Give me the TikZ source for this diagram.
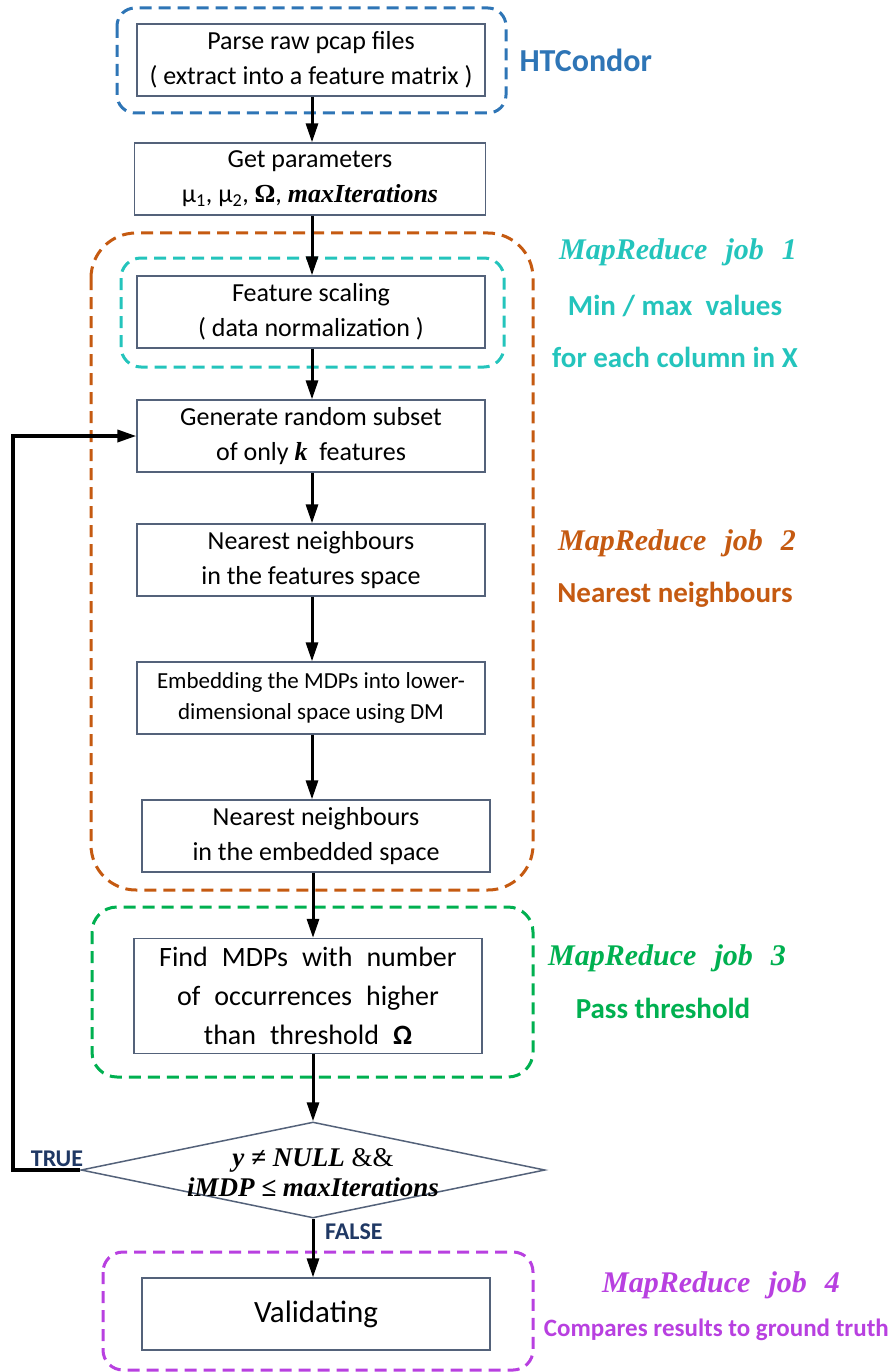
\documentclass[tikz,border=0pt]{standalone}
\usepackage{fontspec}
\setmainfont{Carlito}
\newfontfamily\serifbi{Liberation Serif}
\usetikzlibrary{arrows.meta,shapes.geometric}

\definecolor{condorblue}{RGB}{46,117,182}
\definecolor{jobteal}{RGB}{36,196,188}
\definecolor{joborange}{RGB}{197,90,17}
\definecolor{jobgreen}{RGB}{0,176,80}
\definecolor{jobpurple}{RGB}{184,64,224}
\definecolor{labelnavy}{RGB}{31,56,100}
\definecolor{boxedge}{RGB}{84,98,122}

\newcommand{\mbi}[1]{{\serifbi\bfseries\itshape #1}}
\newcommand{\widewords}{\spaceskip=0.5em plus 0.1em\relax}

\begin{document}
\begin{tikzpicture}[x=1pt,y=-1pt,
  procbox/.style={draw=boxedge, line width=1.3pt, fill=white, align=center,
    inner sep=0pt, minimum width=348pt, minimum height=72pt,
    font=\fontsize{26}{35}\selectfont},
  group/.style={line width=3pt, dash pattern=on 12pt off 7pt, rounded corners=#1},
  flow/.style={-{Triangle[length=19pt,width=12pt]}, line width=3pt, black},
  joblabel/.style={font=\serifbi\bfseries\itshape\fontsize{30}{30}\selectfont},
  note/.style={font=\bfseries\fontsize{29}{29}\selectfont},
  branch/.style={font=\bfseries\fontsize{24}{24}\selectfont, text=labelnavy, inner sep=0pt}
]
\useasboundingbox (0,0) rectangle (889,1372);

% dashed job groups
\draw[group=18pt, condorblue] (117,8) rectangle (506,113);
\draw[group=45pt, joborange] (91,233) rectangle (533,890);
\draw[group=20pt, jobteal] (121,258) rectangle (504,367);
\draw[group=25pt, jobgreen] (92,907) rectangle (533,1077);
\draw[group=20pt, jobpurple] (103,1252) rectangle (533,1370);

% main axis of the flow
\coordinate (axis) at (312,0);

% process steps
\node[procbox] (b1) at (311,60) {Parse raw pcap files\\( extract into a feature matrix )};
\node[procbox, minimum width=351pt] (b2) at (310,179) {Get parameters\\
  μ\textsubscript{1},\ μ\textsubscript{2},\ \mbi{\upshape Ω},\ \mbi{maxIterations}};
\node[procbox] (b3) at (311,312) {Feature scaling\\( data normalization )};
\node[procbox] (b4) at (311,436) {Generate random subset\\of only \mbi{k}\ \ features};
\node[procbox] (b5) at (311,560) {Nearest neighbours\\in the features space};
\node[procbox, font=\fontsize{23}{31}\selectfont] (b6) at (311,698) {Embedding the MDPs into lower-\\dimensional space using DM};
\node[procbox] (b7) at (316,836) {Nearest neighbours\\in the embedded space};
\node[procbox, minimum height=115pt, font=\fontsize{28}{39}\selectfont] (b8) at (308,996)
  {\widewords Find MDPs with number\\\widewords of occurrences higher\\\widewords than threshold {\bfseries Ω}};
\node[diamond, draw=boxedge, line width=1.5pt, inner sep=0pt, aspect=4.83,
  minimum width=464pt, minimum height=96pt] (dec) at (313,1170) {};
\node[font=\serifbi\bfseries\itshape\fontsize{27}{30}\selectfont, align=center] (dectext) at (313,1173)
  {y ≠ NULL {\upshape\mdseries \&\&}\\iMDP ≤ maxIterations};
\node[procbox, font=\fontsize{31}{31}\selectfont] (b9) at (316,1314) {Validating};

% connectors
\draw[flow] (axis |- b1.south) -- (axis |- b2.north);
\draw[flow] (axis |- b2.south) -- (axis |- b3.north);
\draw[flow] (axis |- b3.south) -- (axis |- b4.north);
\draw[flow] (axis |- b4.south) -- (axis |- b5.north);
\draw[flow] (axis |- b5.south) -- (axis |- b6.north);
\draw[flow] (axis |- b6.south) -- (axis |- b7.north);
\draw[flow] (dec.north |- b7.south) -- (dec.north |- b8.north);
\draw[flow] (dec.north |- b8.south) -- (dec.north);
\draw[flow] (dec.south) -- (dec.south |- b9.north);
\coordinate (loop) at (13,1170);
\draw[flow, line width=3.5pt] (dec.west) -- (loop) |- (b4.west);

% branch labels
\node[branch] (truelbl) at (57,1159) {TRUE};
\node[branch, anchor=west] (falselbl) at (325,1232) {FALSE};

% group labels
\node[font=\bfseries\fontsize{32}{32}\selectfont, text=condorblue, anchor=west] (condor) at (516,60) {HTCondor};
\node[joblabel, text=jobteal] (mr1) at (678,252) {MapReduce\hspace{0.35em} job\hspace{0.35em} 1};
\node[note, text=jobteal] (mr1a) at (675,306) {Min / max\ \ values};
\node[note, text=jobteal] (mr1b) at (675,357) {for each column in X};
\node[joblabel, text=joborange] (mr2) at (677,543) {MapReduce\hspace{0.35em} job\hspace{0.35em} 2};
\node[note, text=joborange] (mr2a) at (675,595) {Nearest neighbours};
\node[joblabel, text=jobgreen] (mr3) at (667,958) {MapReduce\hspace{0.35em} job\hspace{0.35em} 3};
\node[note, text=jobgreen] (mr3a) at (663,1008) {Pass threshold};
\node[joblabel, text=jobpurple] (mr4) at (721,1285) {MapReduce\hspace{0.35em} job\hspace{0.35em} 4};
\node[font=\bfseries\fontsize{25}{25}\selectfont, text=jobpurple, anchor=east, inner sep=0pt] (mr4a) at (889,1330) {Compares results to ground truth};
\end{tikzpicture}
\end{document}
